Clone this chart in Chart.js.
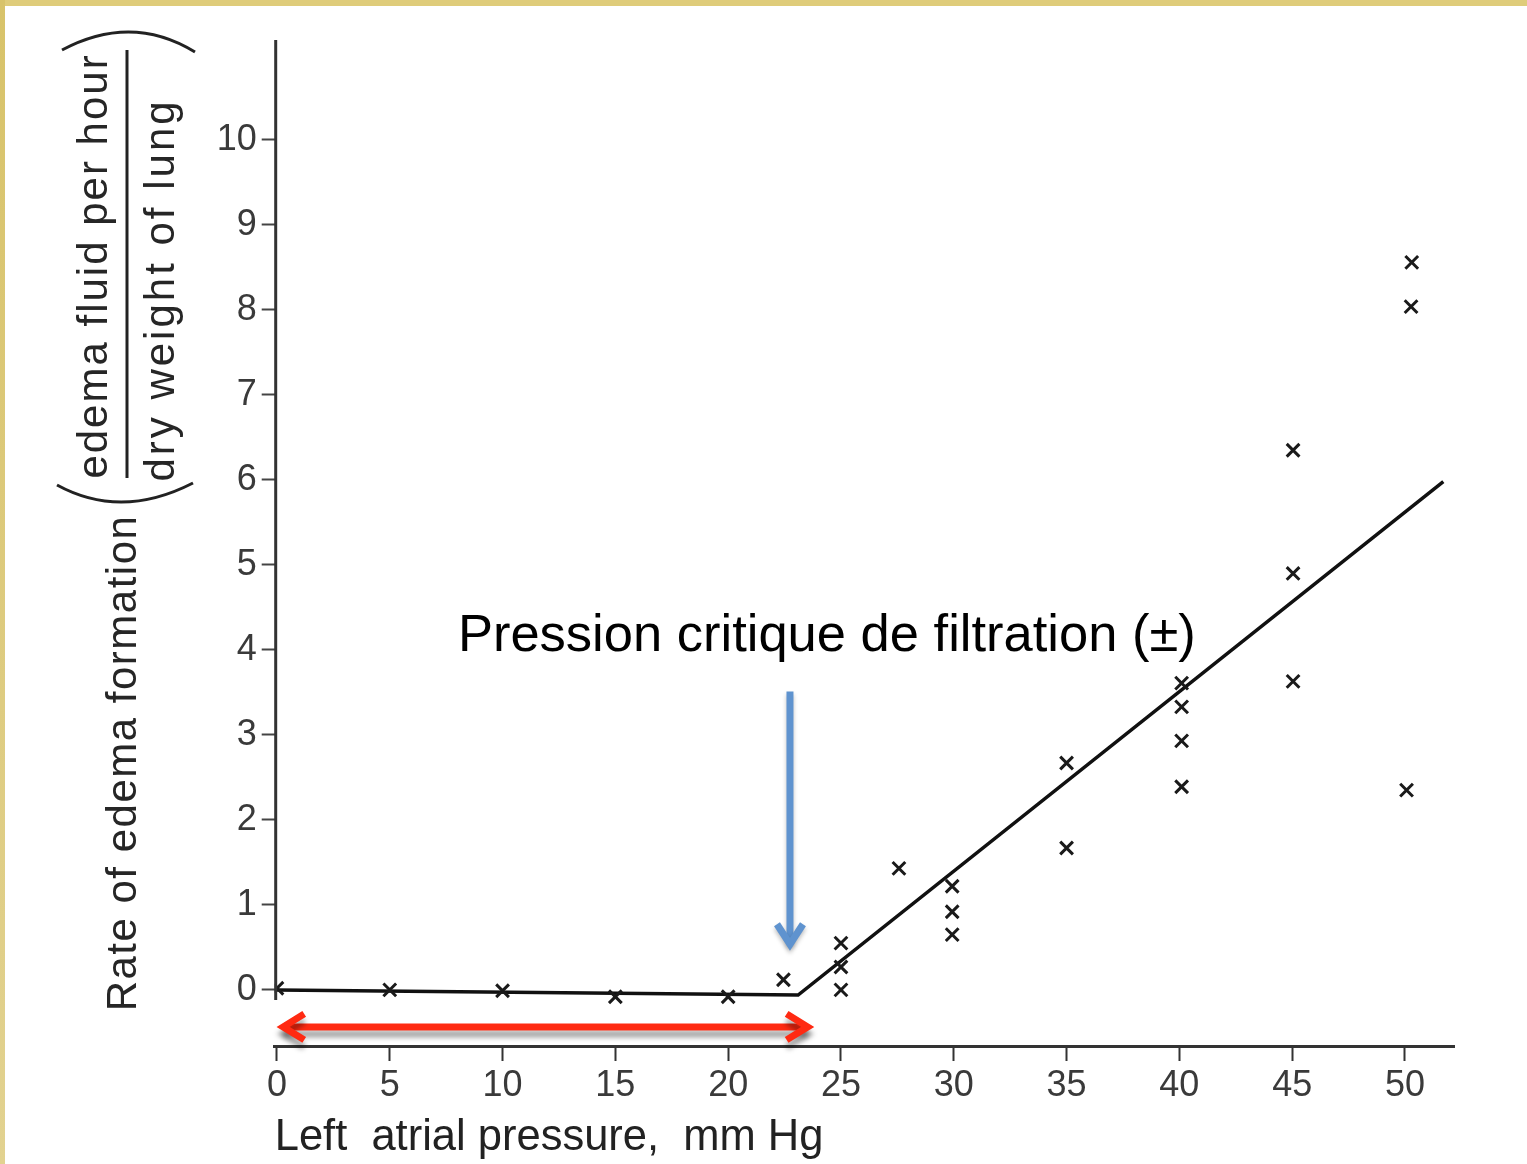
<!DOCTYPE html>
<html>
<head>
<meta charset="utf-8">
<script src="https://cdn.jsdelivr.net/npm/chart.js@4.4.1/dist/chart.umd.min.js"></script>
<style>
html,body{margin:0;padding:0;background:#fff;overflow:hidden}
#wrap{width:1527px;height:1164px;position:relative}
canvas{display:block}
</style>
</head>
<body>
<div id="wrap"><canvas id="c" width="1527" height="1164"></canvas></div>
<script>
// ---- data ----
const xTickValues = [0, 5, 10, 15, 20, 25, 30, 35, 40, 45, 50];
const yTickValues = [0, 1, 2, 3, 4, 5, 6, 7, 8, 9, 10];
const pointX = [0, 5, 10, 15, 20, 22.45, 25, 25, 25, 27.57, 29.93, 29.93, 29.93, 35, 35, 40.1, 40.1, 40.1, 40.1, 45.04, 45.04, 45.04, 50.3, 50.27, 50.07];
const pointY = [0.02, 0, -0.01, -0.08, -0.08, 0.12, 0.55, 0.27, 0.0, 1.43, 1.22, 0.92, 0.65, 2.67, 1.67, 3.61, 3.33, 2.93, 2.39, 6.35, 4.90, 3.63, 8.56, 8.04, 2.35];
const fitX = [0, 23.1, 51.7];
const fitY = [0.0, -0.06, 5.98];
const xTitle = 'Left  atrial pressure,  mm Hg';
const yTitleMain = 'Rate of edema formation';
const yTitleNum = 'edema fluid per hour';
const yTitleDen = 'dry weight of lung';
const annotationText = 'Pression critique de filtration (±)';
const redArrowX = [0.1, 23.7];
const redArrowY = -0.435;
const blueArrowX = 22.74;
const blueArrowY = [3.51, 0.49];

const FONT = "'Liberation Sans', Arial, Helvetica, sans-serif";

const decor = {
  id: 'decor',
  beforeDraw(chart) {
    const ctx = chart.ctx;
    ctx.save();
    ctx.fillStyle = '#ffffff';
    ctx.fillRect(0, 0, chart.width, chart.height);
    ctx.fillStyle = '#dfcc7a';
    ctx.fillRect(0, 0, chart.width, 6);
    const g = ctx.createLinearGradient(0, 0, 0, chart.height);
    g.addColorStop(0, '#d8c36a');
    g.addColorStop(1, '#e2d290');
    ctx.fillStyle = g;
    ctx.fillRect(0, 0, 5, chart.height);
    ctx.restore();
  },
  afterDraw(chart) {
    const ctx = chart.ctx;
    const xs = chart.scales.x, ys = chart.scales.y;
    const ca = chart.chartArea;
    ctx.save();
    // y axis line (stops just below 0)
    ctx.strokeStyle = '#333';
    ctx.lineWidth = 3;
    ctx.beginPath();
    ctx.moveTo(ca.left + 1, ca.top + 2);
    ctx.lineTo(ca.left + 1, ys.getPixelForValue(-0.12));
    ctx.stroke();

    // y title: main part
    ctx.fillStyle = '#262626';
    ctx.textAlign = 'center';
    ctx.textBaseline = 'alphabetic';
    ctx.font = '42px ' + FONT;
    ctx.letterSpacing = '1.5px';
    ctx.save(); ctx.translate(136, 763); ctx.rotate(-Math.PI / 2); ctx.fillText(yTitleMain, 0, 0); ctx.restore();
    ctx.letterSpacing = '2px';
    ctx.save(); ctx.translate(107, 266); ctx.rotate(-Math.PI / 2); ctx.fillText(yTitleNum, 0, 0); ctx.restore();
    ctx.letterSpacing = '3px';
    ctx.save(); ctx.translate(174, 290); ctx.rotate(-Math.PI / 2); ctx.fillText(yTitleDen, 0, 0); ctx.restore();
    ctx.letterSpacing = '0px';
    // fraction bar
    ctx.strokeStyle = '#222';
    ctx.lineWidth = 3;
    ctx.beginPath(); ctx.moveTo(127, 50); ctx.lineTo(127, 478); ctx.stroke();
    // parentheses (rotated)
    ctx.lineWidth = 3;
    ctx.beginPath(); ctx.moveTo(62, 50); ctx.quadraticCurveTo(131.5, 13, 195, 52); ctx.stroke();
    ctx.beginPath(); ctx.moveTo(57, 485); ctx.quadraticCurveTo(121, 520, 193, 483); ctx.stroke();

    // annotation text
    ctx.fillStyle = '#000';
    ctx.textAlign = 'left';
    ctx.font = '52.5px ' + FONT;
    ctx.fillText(annotationText, xs.getPixelForValue(8.02), ys.getPixelForValue(3.99));

    // blue arrow
    const bx = xs.getPixelForValue(blueArrowX);
    const by0 = ys.getPixelForValue(blueArrowY[0]);
    const by1 = ys.getPixelForValue(blueArrowY[1]);
    ctx.save();
    ctx.shadowColor = 'rgba(0,0,0,0.25)';
    ctx.shadowBlur = 4;
    ctx.shadowOffsetY = 3;
    ctx.strokeStyle = '#5f93cf';
    ctx.lineWidth = 7;
    ctx.lineCap = 'butt';
    ctx.lineJoin = 'miter';
    ctx.beginPath(); ctx.moveTo(bx, by0); ctx.lineTo(bx, by1 - 4); ctx.stroke();
    ctx.beginPath(); ctx.moveTo(bx - 13, by1 - 24); ctx.lineTo(bx, by1 - 4); ctx.lineTo(bx + 13, by1 - 24); ctx.stroke();
    ctx.restore();

    // red double arrow
    const rx0 = xs.getPixelForValue(redArrowX[0]);
    const rx1 = xs.getPixelForValue(redArrowX[1]);
    const ry = ys.getPixelForValue(redArrowY);
    ctx.save();
    ctx.shadowColor = 'rgba(0,0,0,0.35)';
    ctx.shadowBlur = 5;
    ctx.shadowOffsetY = 7;
    ctx.strokeStyle = '#ff2a12';
    ctx.lineWidth = 7;
    ctx.lineJoin = 'miter';
    ctx.beginPath(); ctx.moveTo(rx0 + 4, ry); ctx.lineTo(rx1 - 4, ry); ctx.stroke();
    ctx.beginPath(); ctx.moveTo(rx0 + 25, ry - 13); ctx.lineTo(rx0 + 4, ry); ctx.lineTo(rx0 + 25, ry + 13); ctx.stroke();
    ctx.beginPath(); ctx.moveTo(rx1 - 25, ry - 13); ctx.lineTo(rx1 - 4, ry); ctx.lineTo(rx1 - 25, ry + 13); ctx.stroke();
    ctx.restore();
    ctx.restore();
  }
};

new Chart(document.getElementById('c'), {
  type: 'scatter',
  data: {
    datasets: [
      {
        label: 'fit',
        data: fitX.map((x, i) => ({ x, y: fitY[i] })),
        showLine: true,
        borderColor: '#111',
        borderWidth: 3.5,
        pointRadius: 0,
        tension: 0,
        order: 2
      },
      {
        label: 'measurements',
        data: pointX.map((x, i) => ({ x, y: pointY[i] })),
        pointStyle: 'crossRot',
        pointRadius: 9,
        borderColor: '#1a1a1a',
        borderWidth: 3,
        showLine: false,
        order: 1
      }
    ]
  },
  options: {
    responsive: false,
    animation: false,
    devicePixelRatio: 1,
    layout: { padding: { left: 0, right: 72.4, top: 38, bottom: 0 } },
    plugins: { legend: { display: false }, tooltip: { enabled: false } },
    scales: {
      x: {
        type: 'linear',
        min: -0.1,
        max: 52.2,
        afterBuildTicks: s => { s.ticks = xTickValues.map(v => ({ value: v })); },
        afterFit: s => { s.height = 118; },
        border: { display: true, color: '#333', width: 3 },
        grid: { drawOnChartArea: false, drawTicks: true, tickLength: 15, tickWidth: 2, tickColor: '#333' },
        ticks: { font: { family: FONT, size: 36 }, color: '#3a3a3a', padding: 3, maxRotation: 0, autoSkip: false },
        title: { display: true, text: xTitle, align: 'start', color: '#222', font: { family: FONT, size: 43.5 }, padding: { top: 0, bottom: 0 } }
      },
      y: {
        type: 'linear',
        min: -0.66,
        max: 11.2,
        afterBuildTicks: s => { s.ticks = yTickValues.map(v => ({ value: v })); },
        afterFit: s => { s.width = 274.7; },
        border: { display: false },
        grid: { drawOnChartArea: false, drawTicks: true, tickLength: 13, tickWidth: 2, tickColor: '#444' },
        ticks: { font: { family: FONT, size: 36 }, color: '#3a3a3a', padding: 5, autoSkip: false }
      }
    }
  },
  plugins: [decor]
});
</script>
</body>
</html>
